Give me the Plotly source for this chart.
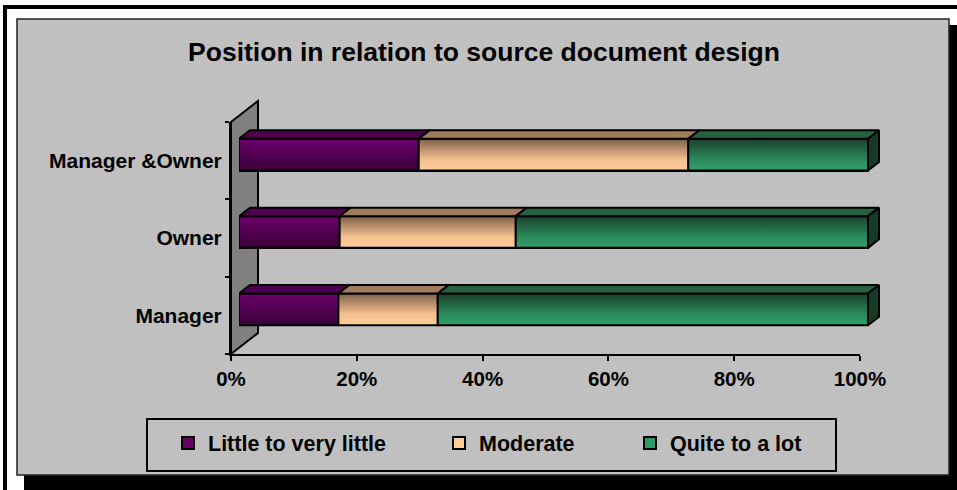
import plotly.graph_objects as go

# ---- data -------------------------------------------------------------
categories = ["Manager", "Owner", "Manager &Owner"]
series_names = ["Little to very little", "Moderate", "Quite to a lot"]
little = [0.158, 0.16, 0.2857]
moderate = [0.158, 0.28, 0.4286]
quite = [0.684, 0.56, 0.2857]
tick_values = [0, 0.2, 0.4, 0.6, 0.8, 1.0]
tick_labels = ["0%", "20%", "40%", "60%", "80%", "100%"]
title_text = "Position in relation to source document design"

series_values = [little, moderate, quite]

# ---- styling ----------------------------------------------------------
FONT = "Arial, 'Liberation Sans', sans-serif"
W, H = 957, 490
EDGE = 2

styles = [
    dict(solid="#660066", top="#4e004c",
         front=[[0, "#3a0038"], [1, "#6c006c"]], side="#3a0038"),
    dict(solid="#ffcc99", top="#a07c5c",
         front=[[0, "#ffcc99"], [0.35, "#f4c08e"], [1, "#7e604a"]], side="#8a6a50"),
    dict(solid="#339966", top="#25603f",
         front=[[0, "#33a06a"], [0.35, "#2c8a5a"], [1, "#1b3f2d"]], side="#173a28"),
]


def fx(p):
    return p / W


def fy(p):
    return 1 - p / H


# axis frame (front edge) in pixels
AX_X0, AX_X1 = 231, 860
AX_Y_TOP, AX_Y_BOT = 122, 354
WALL_DX, WALL_DY = 27, 21          # depth of the side wall
BAR_SHIFT_X, BAR_SHIFT_Y = 8, 6    # bars sit a little into the depth
TOP_DX_PX, TOP_DY_PX = 11, 8.5     # depth of each bar
BAR_W = 0.41

n_cat = len(categories)
pos = list(range(n_cat))
SX = AX_X1 - AX_X0                  # px per unit share
SY = (AX_Y_BOT - AX_Y_TOP) / n_cat  # px per category
top_dx = TOP_DX_PX / SX
top_dy = TOP_DY_PX / SY
half = BAR_W / 2

# the bar subplot gets a little head-room so the depth faces are not clipped
X2_MAX = 1.05
Y2_MAX = n_cat - 0.5 + 0.4

fig = go.Figure()

# invisible carrier so the category / percentage axes are drawn
fig.add_trace(go.Scatter(
    x=[0] * n_cat, y=categories, mode="markers", marker=dict(opacity=0),
    showlegend=False, hoverinfo="skip", xaxis="x", yaxis="y",
))

legend_ids = ["legend", "legend2", "legend3"]
for name, vals, st, lg in zip(series_names, series_values, styles, legend_ids):
    fig.add_trace(go.Bar(
        y=pos, x=vals, orientation="h", width=BAR_W, name=name,
        marker=dict(color=st["solid"], line=dict(color="black", width=EDGE)),
        xaxis="x2", yaxis="y2", legend=lg, hoverinfo="skip",
    ))

# shaded faces of every bar segment
face = dict(mode="lines", fill="toself", line=dict(color="black", width=EDGE),
            xaxis="x2", yaxis="y2", showlegend=False, hoverinfo="skip")
cum = [0.0] * n_cat
for k, (vals, st) in enumerate(zip(series_values, styles)):
    for i, v in enumerate(vals):
        b = cum[i]
        e = b + v
        p = pos[i]
        lo, hi = p - half, p + half
        # front face
        fig.add_trace(go.Scatter(
            x=[b, e, e, b, b], y=[lo, lo, hi, hi, lo],
            fillgradient=dict(type="vertical", colorscale=st["front"]), **face))
        # top face
        fig.add_trace(go.Scatter(
            x=[b, e, e + top_dx, b + top_dx, b],
            y=[hi, hi, hi + top_dy, hi + top_dy, hi],
            fillcolor=st["top"], **face))
        # right end face on the last segment
        if k == len(series_values) - 1:
            fig.add_trace(go.Scatter(
                x=[e, e + top_dx, e + top_dx, e, e],
                y=[lo, lo + top_dy, hi + top_dy, hi, lo],
                fillcolor=st["side"], **face))
        cum[i] = e

# ---- frame, wall and legend box --------------------------------------
def rect(x0, y0, x1, y1, **kw):
    return dict(type="rect", xref="paper", yref="paper",
                x0=fx(x0), x1=fx(x1), y0=fy(y0), y1=fy(y1), layer="below", **kw)


def path(points, **kw):
    d = "M " + " L ".join(f"{fx(a)},{fy(b)}" for a, b in points) + " Z"
    return dict(type="path", xref="paper", yref="paper", path=d, layer="below", **kw)


shapes = [
    rect(5, 7, 1200, 1200, line=dict(color="black", width=4), fillcolor="white"),
    rect(24, 25, 960, 495, line=dict(width=0), fillcolor="black"),
    rect(17, 19, 949, 475, line=dict(color="#222222", width=1.5), fillcolor="#c0c0c0"),
    path([(AX_X0, AX_Y_BOT), (AX_X0, AX_Y_TOP),
          (AX_X0 + WALL_DX, AX_Y_TOP - WALL_DY), (AX_X0 + WALL_DX, AX_Y_BOT - WALL_DY)],
         line=dict(color="black", width=EDGE), fillcolor="#808080"),
    rect(147, 419, 836, 471, line=dict(color="black", width=2), fillcolor="#c0c0c0"),
]

legend_style = dict(
    xanchor="left", yanchor="middle", y=fy(443), bgcolor="rgba(0,0,0,0)",
    borderwidth=0, orientation="h",
    font=dict(family=FONT, size=21.5, color="black", weight="bold"),
)

bar_x0 = AX_X0 + BAR_SHIFT_X
bar_y_bot = AX_Y_BOT - BAR_SHIFT_Y

fig.update_layout(
    width=W, height=H,
    margin=dict(l=0, r=0, t=0, b=0, autoexpand=False),
    paper_bgcolor="white", plot_bgcolor="rgba(0,0,0,0)",
    barmode="stack",
    showlegend=True,
    title=dict(text=title_text, x=fx(484), xanchor="center", y=fy(52), yanchor="middle",
               font=dict(family=FONT, size=26.5, color="black", weight="bold")),
    xaxis=dict(domain=[fx(AX_X0), fx(AX_X1)], range=[0, 1], anchor="y",
               tickvals=tick_values, ticktext=tick_labels, automargin=False,
               showline=True, linecolor="black", linewidth=2,
               ticks="outside", ticklen=5, tickwidth=2, tickcolor="black",
               showgrid=False, zeroline=False, fixedrange=True,
               tickfont=dict(family=FONT, size=20.5, color="black", weight="bold")),
    yaxis=dict(domain=[fy(AX_Y_BOT), fy(AX_Y_TOP)], type="category",
               categoryarray=categories, categoryorder="array", automargin=False,
               range=[-0.5, n_cat - 0.5], anchor="x",
               showline=True, linecolor="black", linewidth=2,
               ticks="outside", ticklen=4, tickwidth=2, tickcolor="black",
               ticklabelstandoff=3,
               tickson="boundaries", showgrid=False, zeroline=False, fixedrange=True,
               tickfont=dict(family=FONT, size=21, color="black", weight="bold")),
    xaxis2=dict(domain=[fx(bar_x0), fx(bar_x0 + SX * X2_MAX)], range=[0, X2_MAX],
                anchor="y2", visible=False, fixedrange=True, automargin=False),
    yaxis2=dict(domain=[fy(bar_y_bot), fy(bar_y_bot - SY * (Y2_MAX + 0.5))],
                range=[-0.5, Y2_MAX], anchor="x2", visible=False, fixedrange=True,
                automargin=False),
    legend=dict(x=fx(168), **legend_style),
    legend2=dict(x=fx(439), **legend_style),
    legend3=dict(x=fx(630), **legend_style),
    shapes=shapes,
)

fig.write_html("out.html")
